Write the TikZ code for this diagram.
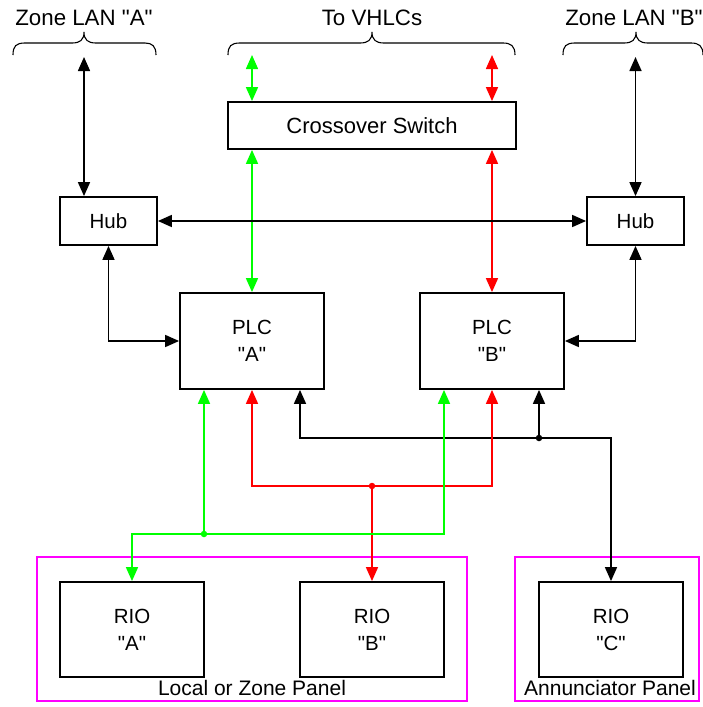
\documentclass[tikz,border=0pt]{standalone}
\usepackage{fontspec}
\setmainfont{Liberation Sans}[Ligatures=TeXOff]
\usetikzlibrary{arrows.meta}
\definecolor{lgreen}{RGB}{0,255,0}
\definecolor{lred}{RGB}{255,0,0}
\definecolor{panelmag}{HTML}{FF00FF}
\begin{document}
\begin{tikzpicture}[x=1pt,y=-1pt,
  box/.style={draw,line width=1.8pt,fill=white,inner sep=0pt,align=center,font=\fontsize{20.5}{27}\selectfont},
  conn/.style={line width=1.6pt,>={Triangle[length=14pt,width=12pt]}},
  panel/.style={draw=panelmag,line width=1.25pt,inner sep=0pt},
  lbl/.style={font=\fontsize{22.3}{26}\selectfont,inner sep=0pt},
  plbl/.style={font=\fontsize{21}{26}\selectfont,inner sep=0pt},
  brace/.style={line width=1.1pt},
  dot/.style={circle,fill,inner sep=0pt,minimum size=6.5pt}]
\useasboundingbox (0,0) rectangle (703,707);

% panels
\node[panel,minimum width=430pt,minimum height=144pt] (pLocal) at (252,629) {};
\node[panel,minimum width=184pt,minimum height=144pt] (pAnn) at (607,629) {};
\node[plbl] (tLocal) at (252,688) {Local or Zone Panel};
\node[plbl] (tAnn) at (610,688) {Annunciator Panel};

% top labels
\node[lbl] (tZA) at (84,18) {Zone LAN "A"};
\node[lbl] (tVH) at (372,18) {To VHLCs};
\node[lbl] (tZB) at (634,18) {Zone LAN "B"};

% braces
\draw[brace] (13,55) .. controls (13,46) and (16,43) .. (25,43) -- (72,43)
  .. controls (80,43) and (84,40) .. (84,32)
  .. controls (84,40) and (88,43) .. (96,43) -- (145,43)
  .. controls (152,43) and (156,46) .. (156,55);
\draw[brace] (228,55) .. controls (228,46) and (231,43) .. (240,43) -- (360,43)
  .. controls (368,43) and (372,40) .. (372,32)
  .. controls (372,40) and (376,43) .. (384,43) -- (503,43)
  .. controls (511,43) and (515,46) .. (515,55);
\draw[brace] (563,55) .. controls (563,46) and (566,43) .. (575,43) -- (624,43)
  .. controls (632,43) and (636,40) .. (636,32)
  .. controls (636,40) and (640,43) .. (648,43) -- (691,43)
  .. controls (699,43) and (703,46) .. (703,55);

% boxes
\node[box,minimum width=288pt,minimum height=47pt,font=\fontsize{22}{26}\selectfont] (sw) at (372,125.5) {Crossover Switch};
\node[box,minimum width=97pt,minimum height=48pt] (hubA) at (108.5,221) {Hub};
\node[box,minimum width=97pt,minimum height=48pt] (hubB) at (635.5,221) {Hub};
\node[box,minimum width=144pt,minimum height=96pt] (plcA) at (252,341) {PLC\\"A"};
\node[box,minimum width=144pt,minimum height=96pt] (plcB) at (492,341) {PLC\\"B"};
\node[box,minimum width=144pt,minimum height=95pt] (rioA) at (132,629.5) {RIO\\"A"};
\node[box,minimum width=144pt,minimum height=95pt] (rioB) at (372,629.5) {RIO\\"B"};
\node[box,minimum width=144pt,minimum height=95pt] (rioC) at (611,629.5) {RIO\\"C"};

% free ends and junctions
\coordinate (zA) at (84,57);
\coordinate (zB) at (635.5,57);
\coordinate (vG) at (252,55);
\coordinate (vR) at (492,55);
\coordinate (bj) at (539,438);
\coordinate (rj) at (372,486);
\coordinate (gj) at (204,534);
\coordinate (bA) at ([xshift=48pt]plcA.south);
\coordinate (gA) at ([xshift=-48pt]plcA.south);
\coordinate (gB) at ([xshift=-48pt]plcB.south);

% top connectors
\draw[conn,<->] (zA) -- (zA |- hubA.north);
\draw[conn,<->] (zB) -- (hubB.north);
\draw[conn,<->,lgreen] (vG) -- (vG |- sw.north);
\draw[conn,<->,lred] (vR) -- (vR |- sw.north);
\draw[conn,<->,lgreen] (sw.south -| plcA.north) -- (plcA.north);
\draw[conn,<->,lred] (sw.south -| plcB.north) -- (plcB.north);
\draw[conn,<->] (hubA.east) -- (hubB.west);
\draw[conn,<->] (hubA.south) |- (plcA.west);
\draw[conn,<->] (hubB.south) |- (plcB.east);

% black bus
\draw[conn,<->] (bA) |- (rioC.north |- bj) -- (rioC.north);
\draw[conn,->] (bj) -- (bj |- plcB.south);
% red bus
\draw[conn,<->,lred] (plcA.south) |- (rj) -| (plcB.south);
\draw[conn,->,lred] (rj) -- (rioB.north);
% green bus
\draw[conn,->,lgreen] (gj) -- (gA);
\draw[conn,<->,lgreen] (rioA.north) |- (gB |- gj) -- (gB);

% dots
\node[dot] (dB) at (bj) {};
\node[dot,lred] (dR) at (rj) {};
\node[dot,lgreen] (dG) at (gj) {};
\end{tikzpicture}
\end{document}
